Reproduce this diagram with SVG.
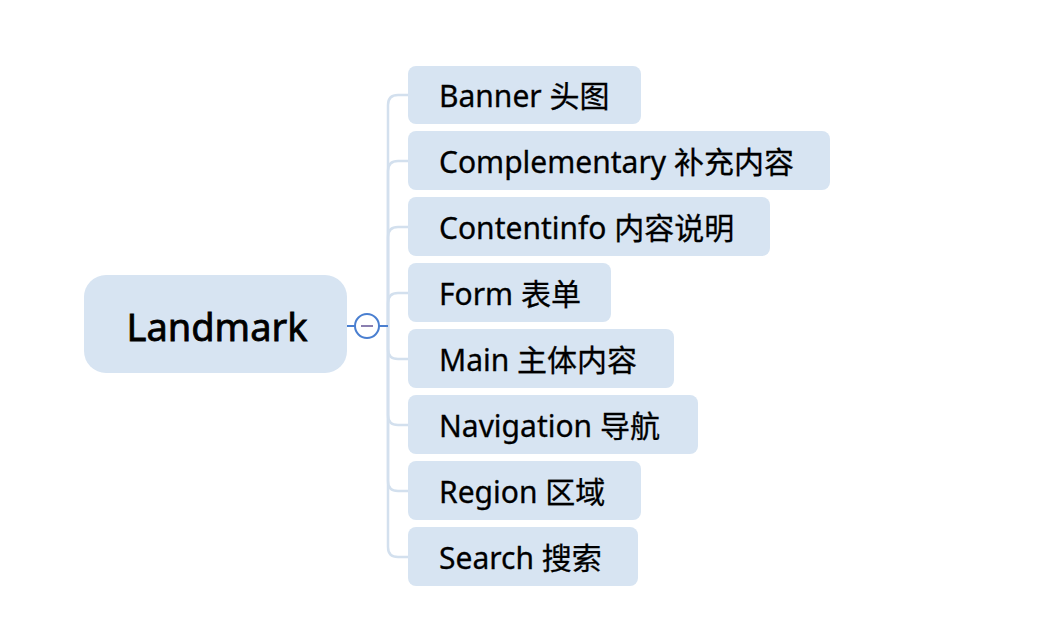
<svg xmlns="http://www.w3.org/2000/svg" width="1042" height="625" viewBox="0 0 1042 625">
<style>
.box{fill:#d7e4f2}
.t{font-family:"Noto Sans","Noto Sans CJK SC",sans-serif;font-size:30px;fill:#000;stroke:#000;stroke-width:0.3}
.rt{font-family:"Noto Sans","Noto Sans CJK SC",sans-serif;font-size:38px;fill:#000;stroke:#000;stroke-width:0.8}
.c{fill:none;stroke:#d3e0ee;stroke-width:2.5}
</style>
<rect width="1042" height="625" fill="#fff"/>
<g id="connectors">
<path class="c" d="M388,326 V105 Q388,95 398,95 H408"/>
<path class="c" d="M388,326 V171 Q388,161 398,161 H408"/>
<path class="c" d="M388,326 V237 Q388,227 398,227 H408"/>
<path class="c" d="M388,326 V303 Q388,293 398,293 H408"/>
<path class="c" d="M388,326 V349 Q388,359 398,359 H408"/>
<path class="c" d="M388,326 V415 Q388,425 398,425 H408"/>
<path class="c" d="M388,326 V481 Q388,491 398,491 H408"/>
<path class="c" d="M388,326 V547 Q388,557 398,557 H408"/>
<line x1="347" y1="326" x2="388" y2="326" stroke="#4a7fd0" stroke-width="2"/>
</g>
<g id="root">
<rect class="box" x="84" y="275" width="263" height="98" rx="22"/>
<text class="rt" x="217" y="341" text-anchor="middle">Landmark</text>
</g>
<g id="toggle">
<circle cx="367" cy="326" r="12" fill="#fff" stroke="#4a7fd0" stroke-width="2"/>
<line x1="361" y1="326" x2="373" y2="326" stroke="#8a7fb0" stroke-width="2"/>
</g>
<g id="banner"><rect class="box" x="408" y="66" width="233" height="58" rx="8"/><text class="t" x="439" y="107">Banner 头图</text></g>
<g id="complementary"><rect class="box" x="408" y="131" width="422" height="59" rx="8"/><text class="t" x="439" y="173">Complementary 补充内容</text></g>
<g id="contentinfo"><rect class="box" x="408" y="197" width="362" height="59" rx="8"/><text class="t" x="439" y="239">Contentinfo 内容说明</text></g>
<g id="form"><rect class="box" x="408" y="263" width="203" height="59" rx="8"/><text class="t" x="439" y="305">Form 表单</text></g>
<g id="main"><rect class="box" x="408" y="329" width="266" height="59" rx="8"/><text class="t" x="439" y="371">Main 主体内容</text></g>
<g id="navigation"><rect class="box" x="408" y="395" width="290" height="59" rx="8"/><text class="t" x="439" y="437">Navigation 导航</text></g>
<g id="region"><rect class="box" x="408" y="461" width="233" height="59" rx="8"/><text class="t" x="439" y="503">Region 区域</text></g>
<g id="search"><rect class="box" x="408" y="527" width="230" height="59" rx="8"/><text class="t" x="439" y="569">Search 搜索</text></g>
</svg>
